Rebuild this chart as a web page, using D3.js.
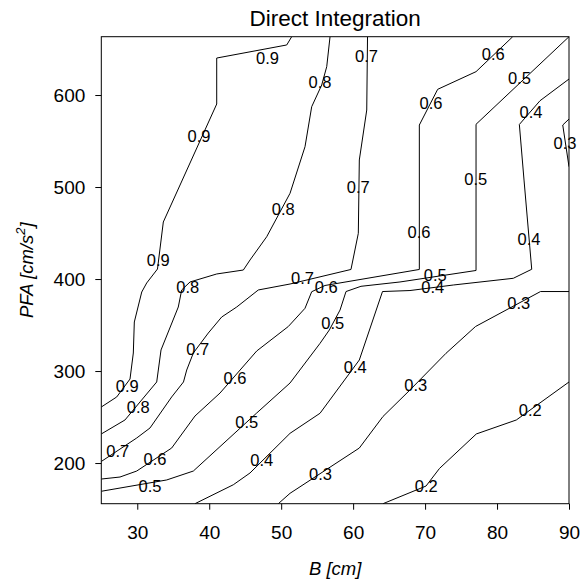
<!DOCTYPE html>
<html>
<head>
<meta charset="utf-8">
<script src="https://cdn.jsdelivr.net/npm/d3@7"></script>
<style>
  html, body { margin: 0; padding: 0; background: #fff; }
  svg { display: block; font-family: "Liberation Sans", Arial, sans-serif; }
</style>
</head>
<body>
<svg id="chart" width="586" height="583"></svg>
<script>
// Contour lines of the direct-integration result, traced as [B, PFA] vertices.
const contour09 = [[25, 260.9], [27.14, 271.8], [28.99, 291.3], [29.45, 319.6], [29.59, 353.3], [30.62, 385.9], [31.31, 395.7], [32.81, 410.9], [33.62, 462], [41.04, 590.2], [41.04, 640.2], [50.77, 654.4], [51.46, 663.4]];
const contour08 = [[25, 231.6], [28.29, 246.8], [32.7, 288.1], [33.3, 322.9], [35.7, 369.6], [36.17, 388.1], [37.33, 396.8], [41.04, 405.5], [44.74, 409.8], [45.67, 420.7], [47.99, 446], [51.23, 493.2], [53.31, 543.8], [54.24, 587.3], [55.63, 610.9], [56.33, 630.8], [56.79, 663.4]];
const contour07 = [[25, 201.7], [29.92, 227.2], [31.77, 238.1], [34.78, 271.8], [36.42, 288.1], [36.87, 301.1], [37.79, 319.6], [39.87, 341.3], [41.73, 358.7], [43.82, 369.6], [46.82, 388.1], [51.23, 394.6], [59.7, 410.4], [60.72, 449.7], [60.86, 529.4], [61.89, 583.7], [62.0, 663.4]];
const contour06 = [[25, 182.6], [27.6, 184.8], [29.92, 191.3], [34.78, 216.3], [38.02, 251.1], [41.5, 276.1], [46.6, 321.8], [50.99, 348.4], [53.31, 368.2], [54.24, 386.2], [56.09, 393], [69.2, 410.4], [69.2, 567.4], [71.75, 606.2], [77.08, 625.4], [82.18, 663.4]];
const contour05 = [[25, 169.3], [34.09, 181.6], [37.79, 191.3], [46.6, 254.4], [51.23, 287], [55.4, 330.1], [56.69, 344.6], [58.18, 366.3], [59.01, 386.4], [61.09, 392.1], [66.51, 396.8], [77.08, 409.3], [77.08, 568.2], [90, 663.4]];
const contour04 = [[38.02, 155.8], [43.35, 176.4], [45.67, 189.2], [51.23, 232.3], [55.4, 254.1], [60.86, 312], [64.08, 386.4], [67.9, 387.5], [73.92, 393.5], [82.26, 400.8], [84.82, 410.6], [83.75, 507.6], [83.1, 568], [85.97, 593.8], [90, 617.4]];
const contour03a = [[49.6, 155.8], [51.23, 167.1], [60.86, 216.3], [64.15, 250.6], [67.9, 279.4], [72.91, 319.3], [77.01, 348.4], [86.04, 386.4], [90, 386.4]];
const contour03b = [[90, 573.9], [89.13, 567.4], [90, 522.1]];
const contour02 = [[64.15, 155.8], [70.13, 175], [72.0, 194.1], [77.12, 231.6], [82.68, 246.8], [90, 288.1]];

// Level label positions along each contour, [B, PFA].
const labels09 = [[48.1, 640.2], [38.58, 555.5], [32.92, 420.7], [28.61, 283.7]];
const labels08 = [[55.4, 613.6], [50.3, 476.1], [37.01, 391.7], [30.14, 261.2]];
const labels07 = [[61.86, 642.4], [60.72, 500], [52.96, 400.8], [38.4, 323.6], [27.28, 213.4]];
const labels06 = [[79.48, 644.6], [70.82, 591.7], [69.16, 450.8], [56.26, 391.7], [43.58, 292.1], [32.46, 204.1]];
const labels05 = [[83.1, 618.2], [77.04, 508.7], [71.42, 404.4], [57.17, 352.5], [45.21, 244.9], [31.77, 175]];
const labels04 = [[84.72, 581.9], [84.44, 443.5], [71.07, 391], [60.3, 304.1], [47.29, 203.6]];
const labels03 = [[89.45, 547.5], [83.01, 373.6], [68.7, 284.8], [55.47, 187.7]];
const labels02 = [[84.62, 257.6], [70.16, 175]];

const xTicks = [30, 40, 50, 60, 70, 80, 90];
const yTicks = [200, 300, 400, 500, 600];
const xDomain = [25, 90];
const yDomain = [155.8, 663.4];

const svg = d3.select("#chart");
const plotL = 101.3, plotR = 569, plotT = 36.7, plotB = 503.7;

const x = d3.scaleLinear().domain(xDomain).range([plotL, plotR]);
const y = d3.scaleLinear().domain(yDomain).range([plotB, plotT]);

svg.append("defs").append("clipPath").attr("id", "plotClip")
  .append("rect").attr("x", plotL).attr("y", plotT)
  .attr("width", plotR - plotL).attr("height", plotB - plotT);

const line = d3.line().x(d => x(d[0])).y(d => y(d[1]));

const lines = [contour09, contour08, contour07, contour06, contour05, contour04, contour03a, contour03b, contour02];
svg.append("g").attr("clip-path", "url(#plotClip)")
  .selectAll("path").data(lines).join("path")
  .attr("d", line)
  .attr("fill", "none")
  .attr("stroke", "#000")
  .attr("stroke-width", 1)
  .attr("stroke-linejoin", "round");

const labelSets = [
  ["0.9", labels09], ["0.8", labels08], ["0.7", labels07], ["0.6", labels06],
  ["0.5", labels05], ["0.4", labels04], ["0.3", labels03], ["0.2", labels02]
];
const labelG = svg.append("g");
labelSets.forEach(([text, pts]) => {
  labelG.selectAll(null).data(pts).join("text")
    .attr("x", d => x(d[0]))
    .attr("y", d => y(d[1]))
    .attr("dy", "0.36em")
    .attr("text-anchor", "middle")
    .attr("font-size", 16.5)
    .attr("fill", "#000")
    .text(text);
});

// Frame
svg.append("rect")
  .attr("x", plotL).attr("y", plotT)
  .attr("width", plotR - plotL).attr("height", plotB - plotT)
  .attr("fill", "none").attr("stroke", "#000").attr("stroke-width", 1);

// Axes
const xAxis = svg.append("g").attr("transform", `translate(0,${plotB})`)
  .call(d3.axisBottom(x).tickValues(xTicks).tickSize(6).tickPadding(15.5).tickFormat(d3.format("d")));
const yAxis = svg.append("g").attr("transform", `translate(${plotL},0)`)
  .call(d3.axisLeft(y).tickValues(yTicks).tickSize(6).tickPadding(10).tickFormat(d3.format("d")));
[xAxis, yAxis].forEach(g => {
  g.select(".domain").remove();
  g.selectAll("text").attr("font-size", 19).attr("font-family", "Liberation Sans, Arial, sans-serif").attr("fill", "#000");
  g.selectAll("line").attr("stroke", "#000");
});

// Title and axis titles
svg.append("text")
  .attr("x", (plotL + plotR) / 2).attr("y", 26)
  .attr("text-anchor", "middle").attr("font-size", 22.5)
  .text("Direct Integration");

svg.append("text")
  .attr("x", (plotL + plotR) / 2).attr("y", 575)
  .attr("text-anchor", "middle").attr("font-size", 18.5).attr("font-style", "italic")
  .text("B [cm]");

const yLab = svg.append("text")
  .attr("transform", `translate(33,${(plotT + plotB) / 2}) rotate(-90)`)
  .attr("text-anchor", "middle").attr("font-size", 18.5).attr("font-style", "italic");
yLab.append("tspan").text("PFA [cm/s");
yLab.append("tspan").attr("font-size", 13).attr("dy", "-0.6em").text("2");
yLab.append("tspan").attr("dy", "0.42em").text("]");
</script>
</body>
</html>
